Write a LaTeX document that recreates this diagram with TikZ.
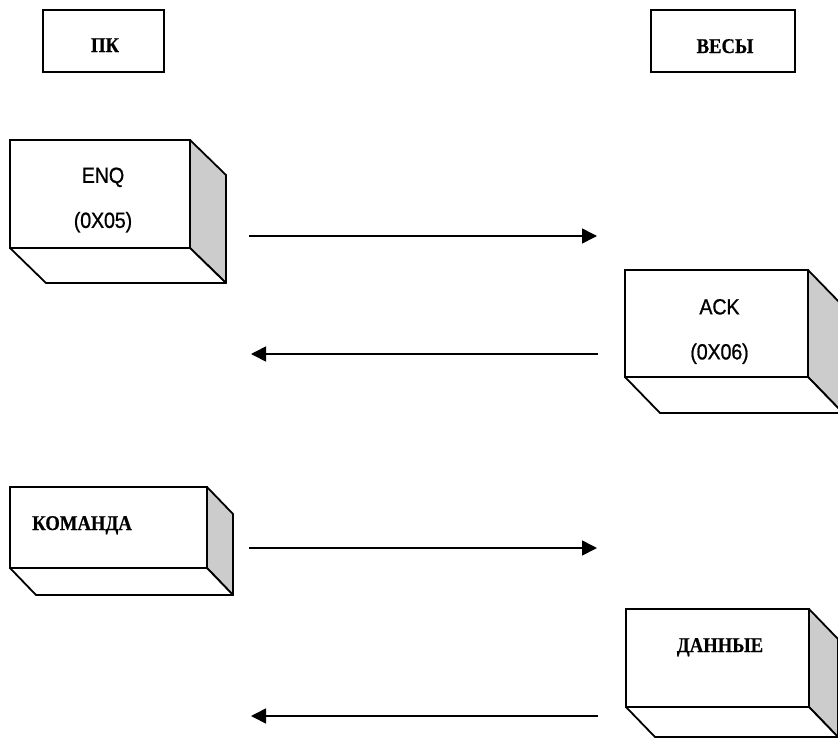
\documentclass[tikz,border=0pt]{standalone}
\usepackage{fontspec}
\setmainfont{Liberation Serif}
\newfontfamily\codefont[FakeStretch=0.9,FakeBold=0.8,LetterSpace=-1]{Liberation Sans}
\newfontfamily\titlefont[FakeStretch=0.89,FakeBold=0.5]{Liberation Serif}
\usetikzlibrary{arrows.meta,calc}
\tikzset{
  head/.style={rectangle, draw=black, line width=1.8pt, outer sep=0pt, inner sep=0pt,
    anchor=north west, minimum height=62pt},
  face/.style={rectangle, draw=black, line width=1.8pt, fill=white, outer sep=0pt,
    inner sep=0pt, anchor=north west},
  codetxt/.style={align=center, inner sep=0pt, font=\codefont\fontsize{22pt}{45pt}\selectfont},
  titletxt/.style={inner sep=0pt, anchor=base, font=\titlefont\bfseries\fontsize{21pt}{24pt}\selectfont},
  side/.style={fill=black!20, draw=black, line width=1.8pt, line join=round},
  base/.style={fill=white, draw=black, line width=1.8pt, line join=round},
  msg/.style={-{Triangle[length=15pt,width=15pt]}, line width=1.6pt},
}
% side and bottom of a box: node, depth x, depth y
\newcommand{\slab}[3]{%
  \draw[side] (#1.north east) -- ++(#2,#3) -- ($(#1.south east)+(#2,#3)$) -- (#1.south east) -- cycle;
  \draw[base] (#1.south west) -- ++(#2,#3) -- ($(#1.south east)+(#2,#3)$) -- (#1.south east) -- cycle;
}
\begin{document}
\begin{tikzpicture}[x=1pt, y=-1pt]
  \useasboundingbox (0,0) rectangle (838,739);
  \clip (0,0) rectangle (838,739);

  % headers
  \node[head, minimum width=121pt] (pc) at (43,10) {};
  \node[titletxt] (pctxt) at (105,52) {ПК};
  \node[head, minimum width=144pt] (scale) at (651,10) {};
  \node[titletxt] (scaletxt) at (725,53) {ВЕСЫ};

  % boxes
  \node[face, minimum width=180pt, minimum height=108pt] (enq) at (10,140) {};
  \slab{enq}{36}{35}
  \node[codetxt] (enqtxt) at ([xshift=3pt,yshift=-6pt]enq.center) {ENQ\\(0X05)};

  \node[face, minimum width=183pt, minimum height=107pt] (ack) at (625,270) {};
  \slab{ack}{35}{36}
  \node[codetxt] (acktxt) at ([xshift=3pt,yshift=-8pt]ack.center) {ACK\\(0X06)};

  \node[face, minimum width=197pt, minimum height=81pt] (cmd) at (10,487) {};
  \slab{cmd}{26}{27}
  \node[titletxt, anchor=base west] (cmdtxt) at (32,530) {КОМАНДА};

  \node[face, minimum width=183pt, minimum height=98pt] (data) at (626,609) {};
  \slab{data}{29}{30}
  \node[titletxt] (datatxt) at (720,652) {ДАННЫЕ};

  % messages
  \coordinate (enqfrom) at (249,236);
  \coordinate (enqto) at (597,236);
  \coordinate (ackfrom) at (598,354);
  \coordinate (ackto) at (251,354);
  \coordinate (cmdfrom) at (249,548);
  \coordinate (cmdto) at (597,548);
  \coordinate (datafrom) at (598,716);
  \coordinate (datato) at (251,716);
  \draw[msg] (enqfrom) -- (enqto);
  \draw[msg] (ackfrom) -- (ackto);
  \draw[msg] (cmdfrom) -- (cmdto);
  \draw[msg] (datafrom) -- (datato);
\end{tikzpicture}
\end{document}
